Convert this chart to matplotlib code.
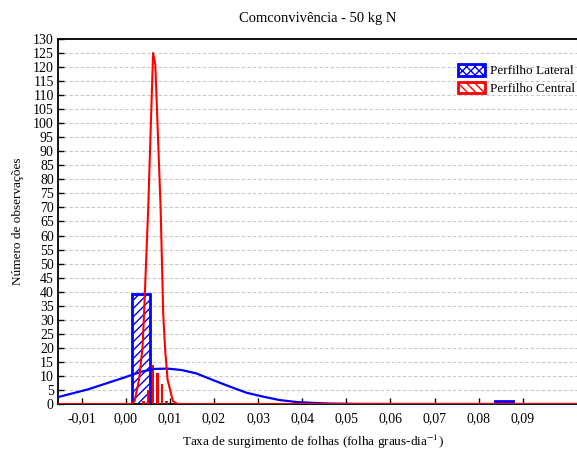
import numpy as np
from matplotlib import pyplot as plt
from matplotlib.patches import Patch

plt.rcParams['font.family'] = ['Liberation Serif', 'DejaVu Serif']
plt.rcParams['mathtext.fontset'] = 'stix'
plt.rcParams['hatch.linewidth'] = 1.0

# ---- dados ----
# histograma perfilho lateral (azul)
lat_esq = [0.00143, 0.0837]
lat_larg = [0.0041, 0.0041]
lat_cont = [39, 1]

# histograma perfilho central (vermelho)
cen_x = [0.00404, 0.00499, 0.00613, 0.00722, 0.00822, 0.00926]
cen_cont = [1, 5, 14, 11, 7, 1]

# curva normal ajustada - lateral
curva_lat_x = [-0.0154, -0.0150, -0.00856, -0.00098, 0.00356, 0.00658, 0.0095, 0.01264,
               0.0160, 0.0198, 0.0236, 0.0274, 0.0312, 0.0349, 0.0387, 0.0424,
               0.0463, 0.053, 0.062, 0.1023]
curva_lat_y = [2.5, 2.6, 5.2, 9.1, 11.5, 12.5, 12.6, 12.1,
               10.9, 8.5, 6.2, 4.0, 2.6, 1.4, 0.7, 0.4,
               0.15, 0.03, 0, 0]

# curva normal ajustada - central
curva_cen_x = [-0.0154, 0.0010, 0.00136, 0.0020, 0.0030, 0.0038, 0.00415, 0.0051, 0.0062,
               0.0067, 0.0079, 0.0085, 0.0089, 0.0095, 0.0107, 0.0118, 0.1023]
curva_cen_y = [0, 0, 0.2, 1, 8.5, 20, 32, 70, 125,
               121, 70, 32, 20, 8.5, 1, 0, 0]

xticks = [-0.01, 0.0, 0.01, 0.02, 0.03, 0.04, 0.05, 0.06, 0.07, 0.08, 0.09]
xticklabels = ['-0,01', '0,00', '0,01', '0,02', '0,03', '0,04', '0,05', '0,06', '0,07', '0,08', '0,09']
yticks = list(range(0, 131, 5))

fig = plt.figure(figsize=(5.77, 4.55), dpi=100)
ax = fig.add_axes([0.1005, 0.1121, 0.8995, 0.8022])

ax.bar(lat_esq, lat_cont, width=lat_larg, align='edge', facecolor='white',
       edgecolor='blue', hatch='////', linewidth=2, zorder=2)
ax.bar(cen_x, cen_cont, width=0.00053, color='red', linewidth=0, zorder=3)
ax.plot(curva_lat_x, curva_lat_y, color='blue', linewidth=1.6, zorder=4)
ax.plot(curva_cen_x, curva_cen_y, color='red', linewidth=1.5, zorder=5)

ax.set_xlim(-0.01536, 0.1023)
ax.set_ylim(0, 130)
ax.set_xticks(xticks)
ax.set_xticklabels(xticklabels)
ax.set_yticks(yticks)
ax.tick_params(direction='in', length=4, width=1, labelsize=10, pad=3)
ax.tick_params(axis='x', pad=6)
ax.yaxis.grid(True, linestyle=(0, (3, 2)), color='#c8c8c8', linewidth=0.8)
ax.set_axisbelow(True)
for s in ['left', 'bottom', 'top']:
    ax.spines[s].set_linewidth(1.3)
ax.spines['right'].set_visible(False)

ax.set_title('Comconvivência - 50 kg N', fontsize=10.5, pad=12)
ax.set_xlabel('Taxa de surgimento de folhas (folha graus-dia$^{-1}$)', fontsize=9.5)
ax.xaxis.set_label_coords(0.492, -0.079)
ax.set_ylabel('Número de observações', fontsize=9.5)
ax.yaxis.set_label_coords(-0.066, 0.5)

handles = [Patch(facecolor='white', edgecolor='blue', hatch='xxxx', linewidth=2, label='Perfilho Lateral'),
           Patch(facecolor='white', edgecolor='red', hatch='\\\\\\\\', linewidth=2, label='Perfilho Central')]
fig.legend(handles=handles, loc='upper left', bbox_to_anchor=(0.794, 0.859), frameon=False,
           fontsize=9.5, handlelength=2.0, handleheight=0.95, handletextpad=0.4, labelspacing=0.35,
           borderpad=0, borderaxespad=0)

fig.savefig('out.png', dpi=100)
